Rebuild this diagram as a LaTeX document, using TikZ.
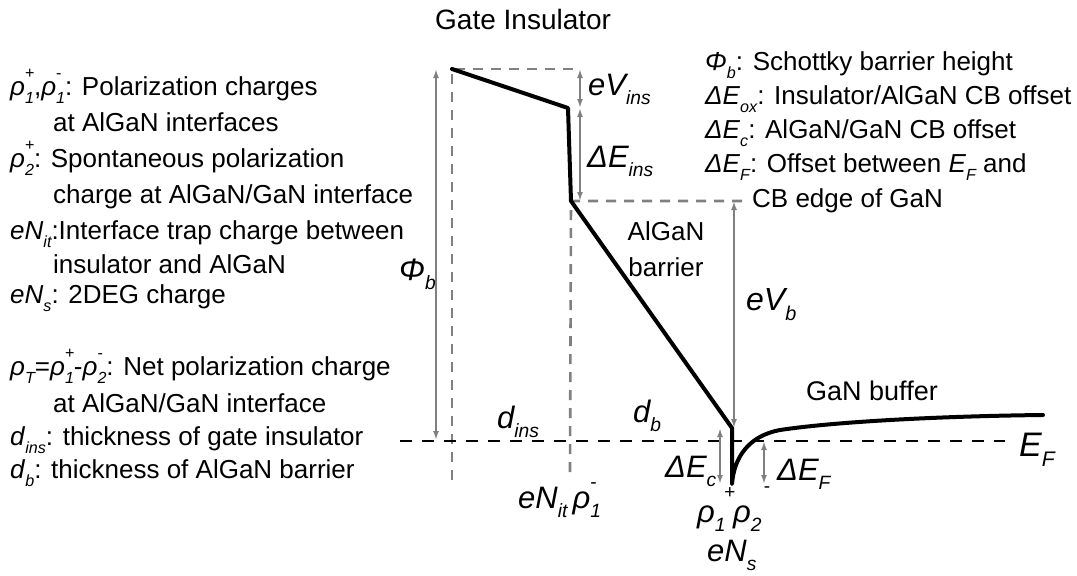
\documentclass[tikz,border=0pt]{standalone}
\usepackage{fontspec}
\setmainfont{Liberation Sans}
\usepackage{graphicx}
\usetikzlibrary{arrows.meta}
\definecolor{gr}{RGB}{128,128,128}
\newcommand\sbs[1]{\raisebox{-0.32em}{\scalebox{0.62}{\itshape #1}}}
\newcommand\sps[1]{\raisebox{0.62em}{\scalebox{0.62}{#1}}}
\newcommand\sbsp[2]{\rlap{\sps{#2}}\sbs{#1}}
\newcommand\mi[1]{\textit{#1}}
\begin{document}
\begin{tikzpicture}[x=1pt,y=-1pt,
  txt/.style={font=\fontsize{26}{30}\selectfont, inner sep=0pt, anchor=base west},
  lbl/.style={font=\fontsize{31}{32}\selectfont\itshape, inner sep=0pt, anchor=base west},
  band/.style={line width=4pt, line join=round, line cap=round},
  gdash/.style={gr, line width=2.6pt, dash pattern=on 10pt off 8pt},
  kdash/.style={black, line width=2.4pt, dash pattern=on 12pt off 10pt},
  dim/.style={gr, line width=2pt, {Latex[length=9pt,width=6pt]}-{Latex[length=9pt,width=6pt]}}]
\useasboundingbox (0,0) rectangle (1077,576);

% band points
\coordinate (A) at (452,69);
\coordinate (B) at (568,108);
\coordinate (C) at (571,201);
\coordinate (D) at (732,428);
\coordinate (E) at (732,484);
\coordinate (F) at (1043,415);
% helper points
\coordinate (Abot) at (452,480);
\coordinate (Atr) at (580,69);
\coordinate (Cbot) at (570,472);
\coordinate (Cr) at (745,201);
\coordinate (PhiT) at (436,69);
\coordinate (PhiB) at (436,440);
\coordinate (Vi) at (580,108);
\coordinate (Ci) at (580,201);
\coordinate (VbT) at (734,201);
\coordinate (VbB) at (734,428);
\coordinate (EcT) at (720,428);
\coordinate (EcB) at (720,484);
\coordinate (EfT) at (764,441);
\coordinate (EfB) at (764,484);
\coordinate (EFl) at (400,441);
\coordinate (EFr) at (1005,441);

% dashed guides
\draw[gdash] (Abot) -- (A) -- (Atr);
\draw[gdash] (Cbot) -- (C) -- (Cr);
\draw[kdash] (EFl) -- (EFr);

% dimension arrows
\draw[dim] (PhiT) -- (PhiB);
\draw[dim] (Atr) -- (Vi);
\draw[dim] (Vi) -- (Ci);
\draw[dim] (VbT) -- (VbB);
\draw[dim] (EcT) -- (EcB);
\draw[dim] (EfT) -- (EfB);

% band edge
\draw[band] (A) -- (B) -- (C) -- (D) -- (E)
  .. controls (734,458) and (748,436) .. (780,430)
  .. controls (840,421) and (950,416) .. (F);

% title
\node[txt, font=\fontsize{28}{30}\selectfont] (title) at (435,29) {Gate Insulator};

% left legend
\node[txt] (l1) at (10,95) {\mi{ρ}\sbsp{1}{+},\mi{ρ}\sbsp{1}{-}: Polarization charges};
\node[txt] (l2) at (53,131) {at AlGaN interfaces};
\node[txt] (l3) at (10,167) {\mi{ρ}\sbsp{2}{+}: Spontaneous polarization};
\node[txt] (l4) at (53,203) {charge at AlGaN/GaN interface};
\node[txt] (l5) at (10,239) {\mi{eN}\sbs{it}:Interface trap charge between};
\node[txt] (l6) at (53,273) {insulator and AlGaN};
\node[txt] (l7) at (10,303) {\mi{eN}\sbs{s}: 2DEG charge};
\node[txt] (l8) at (10,375) {\mi{ρ}\sbs{T}=\mi{ρ}\sbsp{1}{+}-\mi{ρ}\sbsp{2}{-}: Net polarization charge};
\node[txt] (l9) at (53,412) {at AlGaN/GaN interface};
\node[txt] (l10) at (10,445) {\mi{d}\sbs{ins}: thickness of gate insulator};
\node[txt] (l11) at (10,478) {\mi{d}\sbs{b}: thickness of AlGaN barrier};

% right legend
\node[txt] (r1) at (705,70) {\mi{Φ}\sbs{b}: Schottky barrier height};
\node[txt] (r2) at (705,104) {\mi{ΔE}\sbs{ox}: Insulator/AlGaN CB offset};
\node[txt] (r3) at (705,138) {\mi{ΔE}\sbs{c}: AlGaN/GaN CB offset};
\node[txt] (r4) at (705,172) {\mi{ΔE}\sbs{F}: Offset between \mi{E}\sbs{F} and};
\node[txt] (r5) at (752,207) {CB edge of GaN};

% diagram labels
\node[lbl] (eVins) at (588,95) {eV\sbs{ins}};
\node[lbl] (dEins) at (587,167) {ΔE\sbs{ins}};
\node[lbl] (phib) at (399,280) {Φ\sbs{b}};
\node[lbl, font=\fontsize{32}{32}\selectfont\itshape] (eVb) at (746,310) {eV\sbs{b}};
\node[txt, anchor=base] (algan1) at (666,240) {AlGaN};
\node[txt, anchor=base] (algan2) at (666,276) {barrier};
\node[txt, font=\fontsize{27}{30}\selectfont] (ganbuf) at (806,400) {GaN buffer};
\node[lbl] (dins) at (497,428) {d\sbs{ins}};
\node[lbl] (db) at (633,422) {d\sbs{b}};
\node[lbl] (nit) at (518,508) {eN\sbs{it}\,ρ\sbsp{1}{\upshape -}};
\node[lbl] (dEc) at (665,477) {ΔE\sbs{c}};
\node[lbl] (dEF) at (777,480) {ΔE\sbs{F}};
\node[font=\fontsize{19}{19}\selectfont, inner sep=0pt] (plus) at (730,493) {+};
\node[font=\fontsize{19}{19}\selectfont, inner sep=0pt] (minus) at (767,490) {-};
\node[lbl] (rho1) at (697,522) {ρ\sbs{1}};
\node[lbl] (rho2) at (733,522) {ρ\sbs{2}};
\node[lbl] (eNs) at (707,561) {eN\sbs{s}};
\node[lbl, font=\fontsize{34}{34}\selectfont\itshape] (EF) at (1019,456) {E\sbs{F}};
\end{tikzpicture}
\end{document}
